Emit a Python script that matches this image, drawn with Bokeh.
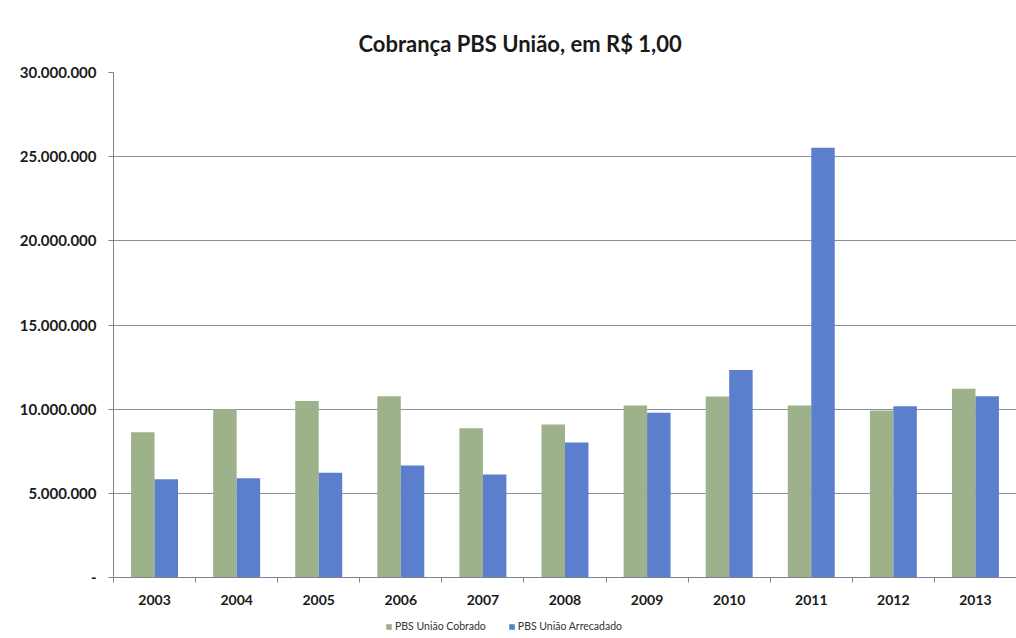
from bokeh.plotting import figure
from bokeh.layouts import column
from bokeh.models import FixedTicker, Legend, LegendItem
from bokeh.embed import file_html
from bokeh.resources import INLINE

years = ["2003", "2004", "2005", "2006", "2007", "2008", "2009", "2010", "2011", "2012", "2013"]
cobrado = [8630000, 10000000, 10480000, 10770000, 8870000, 9090000, 10220000, 10750000, 10220000, 9920000, 11210000]
arrecadado = [5840000, 5900000, 6220000, 6650000, 6120000, 8020000, 9790000, 12320000, 25530000, 10180000, 10770000]
y_ticks = [0, 5000000, 10000000, 15000000, 20000000, 25000000, 30000000]
y_tick_labels = ["-", "5.000.000", "10.000.000", "15.000.000", "20.000.000", "25.000.000", "30.000.000"]
series_names = ["PBS União Cobrado", "PBS União Arrecadado"]

GREEN = "#9db28a"
BLUE = "#5b7fcc"
FONT = "Lato"

n = len(years)
pos = list(range(n))

p = figure(width=1016, height=615, output_backend="svg", toolbar_location=None,
           x_range=(-0.5, n - 0.5), y_range=(0, 30000000),
           min_border_left=113, min_border_right=0, min_border_top=72, min_border_bottom=38)

p.title.text = "Cobrança PBS União, em R$ 1,00"
p.title.text_font = FONT
p.title.text_font_size = "22px"
p.title.text_font_style = "bold"
p.title.text_color = "#1a1a1a"
p.title.align = "left"
p.title.offset = 245
p.title.standoff = 31

p.outline_line_color = None
p.background_fill_color = "white"
p.border_fill_color = "white"

w = 0.286
p.vbar(x=[i - 0.143 for i in pos], top=cobrado, width=w, fill_color=GREEN, line_color=None)
p.vbar(x=[i + 0.143 for i in pos], top=arrecadado, width=w, fill_color=BLUE, line_color=None)

p.xgrid.grid_line_color = None
p.ygrid.grid_line_color = "#8c8f9c"
p.ygrid.grid_line_width = 1

xa = p.xaxis[0]
xa.ticker = FixedTicker(ticks=pos, minor_ticks=[i - 0.5 for i in range(n + 1)])
xa.major_label_overrides = {i: y for i, y in zip(pos, years)}
xa.major_tick_in = 0
xa.major_tick_out = 0
xa.minor_tick_in = 0
xa.minor_tick_out = 5
xa.minor_tick_line_color = "#7f8290"
xa.axis_line_color = "#7f8290"
xa.major_label_text_font = FONT
xa.major_label_text_font_style = "bold"
xa.major_label_text_font_size = "14px"
xa.major_label_text_color = "#1a1a1a"
xa.major_label_standoff = 12

ya = p.yaxis[0]
ya.ticker = FixedTicker(ticks=y_ticks, minor_ticks=[])
ya.major_label_overrides = {t: l for t, l in zip(y_ticks, y_tick_labels)}
ya.major_tick_in = 0
ya.major_tick_out = 5
ya.major_tick_line_color = "#7f8290"
ya.axis_line_color = "#7f8290"
ya.major_label_text_font = FONT
ya.major_label_text_font_style = "bold"
ya.major_label_text_font_size = "15px"
ya.major_label_text_color = "#1a1a1a"
ya.major_label_standoff = 12

# legend strip below the chart (its frame is aligned with the chart's frame)
lg = figure(width=1016, height=23, output_backend="svg", toolbar_location=None,
            x_axis_type=None, y_axis_type=None, x_range=(0, 1), y_range=(0, 1),
            min_border=0, min_border_left=0, min_border_right=0, min_border_top=0, min_border_bottom=0)
lg.outline_line_color = None
lg.xgrid.grid_line_color = None
lg.ygrid.grid_line_color = None
lg.border_fill_color = "white"
lg.background_fill_color = "white"
# swatch renderers placed outside the visible range; only their legend glyphs show
r1 = lg.vbar(x=[5], top=[0.5], width=0.1, fill_color=GREEN, line_color=None)
r2 = lg.vbar(x=[5], top=[0.5], width=0.1, fill_color=BLUE, line_color=None)
legend = Legend(items=[LegendItem(label=series_names[0], renderers=[r1]),
                       LegendItem(label=series_names[1], renderers=[r2])],
                orientation="horizontal", location=(272, 6),
                glyph_width=7, glyph_height=7, label_standoff=3, spacing=22,
                padding=0, margin=0, border_line_color=None, background_fill_alpha=0,
                label_text_font=FONT, label_text_font_size="10.5px", label_text_color="#333333")
lg.add_layout(legend, "center")

layout = column(p, lg, spacing=0)
open("out.html", "w").write(file_html(layout, INLINE))
